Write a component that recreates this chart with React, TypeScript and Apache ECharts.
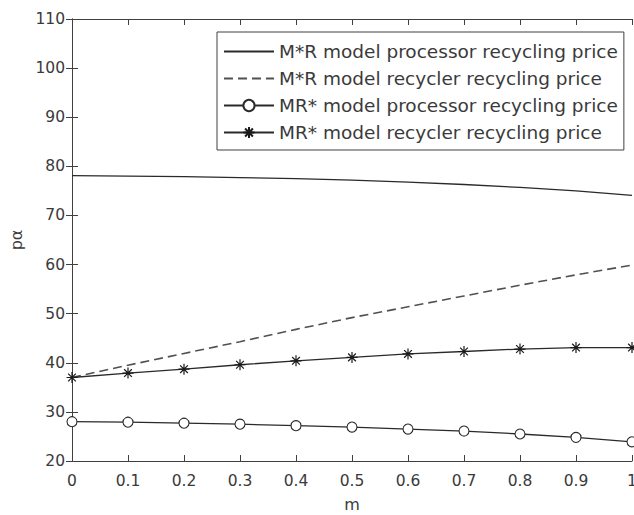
import React, { useEffect, useRef } from "react";
import * as echarts from "echarts";

const mValues = [0, 0.1, 0.2, 0.3, 0.4, 0.5, 0.6, 0.7, 0.8, 0.9, 1.0];
const mrProcessor = [78.1, 78.0, 77.9, 77.7, 77.5, 77.2, 76.8, 76.3, 75.7, 75.0, 74.1];
const mrRecycler = [37.0, 39.5, 41.9, 44.3, 46.8, 49.2, 51.4, 53.6, 55.8, 57.9, 59.9];
const mrsProcessor = [28.0, 27.9, 27.7, 27.5, 27.2, 26.9, 26.5, 26.1, 25.5, 24.8, 23.9];
const mrsRecycler = [37.0, 37.9, 38.7, 39.6, 40.4, 41.1, 41.8, 42.3, 42.8, 43.1, 43.1];

const seriesNames = [
  "M*R model processor recycling price",
  "M*R model recycler recycling price",
  "MR* model processor recycling price",
  "MR* model recycler recycling price",
];

const FONT = "DejaVu Sans";
const AXIS = "#404040";
const TEXT = "#3a3a3a";
const LINE = "#2a2a2a";
const DASH = "#505050";
const STAR = "path://M10 0L10 20M0 10L20 10M3 3L17 17M3 17L17 3";

const pairs = (ys: number[]) => mValues.map((m, i) => [m, ys[i]]);

export default function App() {
  const ref = useRef<HTMLDivElement>(null);
  useEffect(() => {
    if (!ref.current) return;
    const chart = echarts.init(ref.current, undefined, { renderer: "svg" });
    const xCommon = {
      type: "value" as const,
      min: 0,
      max: 1,
      interval: 0.1,
      splitLine: { show: false },
      axisLine: { show: true, lineStyle: { color: AXIS, width: 1 } },
      axisTick: { show: true, inside: true, length: 6, lineStyle: { color: AXIS, width: 1 } },
    };
    const yCommon = {
      type: "value" as const,
      min: 20,
      max: 110,
      interval: 10,
      splitLine: { show: false },
      axisLine: { show: true, lineStyle: { color: AXIS, width: 1 } },
      axisTick: { show: true, inside: true, length: 6, lineStyle: { color: AXIS, width: 1 } },
    };
    chart.setOption({
      animation: false,
      backgroundColor: "#ffffff",
      textStyle: { fontFamily: FONT },
      grid: { left: 72, top: 19, width: 560, height: 442, containLabel: false, outerBoundsMode: "none" },
      legend: {
        orient: "vertical",
        left: 217,
        top: 32,
        padding: [10, 6, 8, 6],
        itemGap: 8,
        itemWidth: 50,
        itemHeight: 14,
        backgroundColor: "#ffffff",
        borderColor: AXIS,
        borderWidth: 1,
        borderRadius: 0,
        textStyle: { fontFamily: FONT, fontSize: 18.5, color: TEXT, lineHeight: 18 },
        data: [
          { name: seriesNames[0], itemStyle: { opacity: 0 } },
          { name: seriesNames[1], itemStyle: { opacity: 0 } },
          { name: seriesNames[2] },
          { name: seriesNames[3] },
        ],
      },
      xAxis: [
        {
          ...xCommon,
          position: "bottom",
          name: "m",
          nameLocation: "middle",
          nameGap: 35,
          nameTextStyle: { fontFamily: FONT, fontSize: 16, color: TEXT },
          axisLabel: {
            show: true,
            margin: 12,
            fontFamily: FONT,
            fontSize: 15.5,
            color: TEXT,
            formatter: (v: number) => String(Math.round(v * 10) / 10),
          },
        },
        { ...xCommon, position: "top", axisLabel: { show: false } },
      ],
      yAxis: [
        {
          ...yCommon,
          position: "left",
          name: "pα",
          nameLocation: "middle",
          nameGap: 42,
          nameTextStyle: { fontFamily: FONT, fontSize: 16, color: TEXT },
          axisLabel: { show: true, margin: 7, fontFamily: FONT, fontSize: 15.5, color: TEXT },
        },
        { ...yCommon, position: "right", axisLabel: { show: false } },
      ],
      series: [
        {
          name: seriesNames[0],
          type: "line",
          data: pairs(mrProcessor),
          symbol: "none",
          lineStyle: { color: LINE, width: 1.3 },
          itemStyle: { color: LINE },
        },
        {
          name: seriesNames[1],
          type: "line",
          data: pairs(mrRecycler),
          symbol: "none",
          lineStyle: { color: DASH, width: 1.6, type: [9, 5] },
          itemStyle: { color: DASH },
        },
        {
          name: seriesNames[2],
          type: "line",
          data: pairs(mrsProcessor),
          symbol: "circle",
          symbolSize: 10,
          lineStyle: { color: LINE, width: 1.3 },
          itemStyle: { color: "#ffffff", borderColor: LINE, borderWidth: 1.1 },
        },
        {
          name: seriesNames[3],
          type: "line",
          data: pairs(mrsRecycler),
          symbol: STAR,
          symbolSize: 11,
          lineStyle: { color: LINE, width: 1.3 },
          itemStyle: { color: "none", borderColor: "#1a1a1a", borderWidth: 1.2 },
        },
      ],
    });
    return () => chart.dispose();
  }, []);
  return (
    <div
      ref={ref}
      style={{ position: "fixed", left: 0, top: 0, width: 634, height: 515, background: "#fff" }}
    />
  );
}
